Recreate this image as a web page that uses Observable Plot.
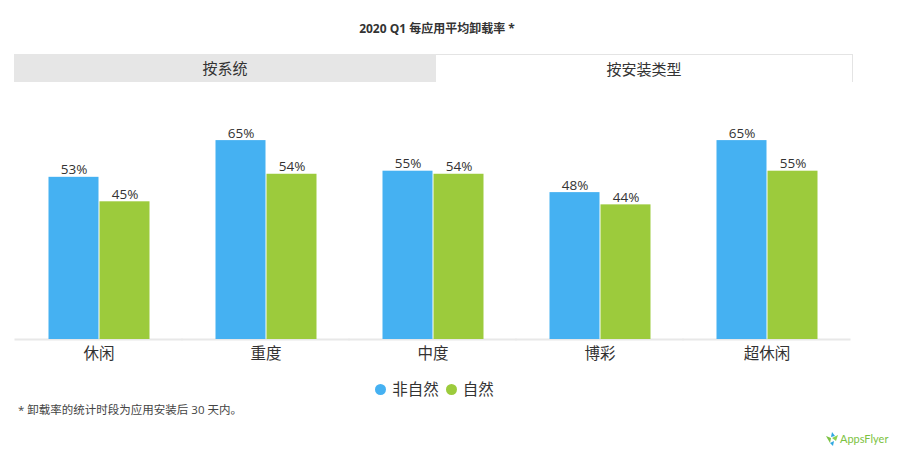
<!DOCTYPE html>
<html><head><meta charset="utf-8">
<script src="https://cdn.jsdelivr.net/npm/d3@7"></script>
<script src="https://cdn.jsdelivr.net/npm/@observablehq/plot@0.6"></script>
<style>
body{margin:0;background:#fff;width:900px;height:452px;position:relative;overflow:hidden;font-family:"Open Sans","Noto Sans CJK SC",sans-serif;color:#333}
#title{position:absolute;top:19px;left:0;width:874px;text-align:center;font-size:12px;font-weight:bold;color:#333}
.tab{position:absolute;top:54px;height:28px;line-height:28px;text-align:center;font-size:15px;color:#333;box-sizing:border-box}
#tab1{left:14px;width:422px;background:#e6e6e6}
#tab2{left:436px;width:417px;background:#fff;border-top:1px solid #e4e4e4;border-right:1px solid #e4e4e4}
#chart{position:absolute;top:90px;left:0}
#legend{position:absolute;top:377px;left:0;width:862px;text-align:center;font-size:15.5px;color:#333}
#legend span.sw{display:inline-block;width:11px;height:11px;border-radius:50%;margin:0 6px 0 7px;vertical-align:0px}
#note{position:absolute;top:401px;left:18px;font-size:11.5px;color:#444}
#logo{position:absolute;top:432px;left:824px;font-size:11px;color:#7cc242;font-family:"Lato",sans-serif}
</style></head><body>
<div id="title">2020 Q1 每应用平均卸载率 *</div>
<div class="tab" id="tab1">按系统</div>
<div class="tab" id="tab2">按安装类型</div>
<div id="chart"></div>
<div id="legend"></div>
<div id="note">* 卸载率的统计时段为应用安装后 30 天内。</div>
<div id="logo"><svg width="16" height="14" style="vertical-align:-3px"><path d="M2 4 L7 6 L6 11 Z" fill="#7cc242"/><path d="M8 6 L14 3 L12 9 Z" fill="#8fd14f"/><path d="M8 0 L11 4 L7 5 Z" fill="#2fa8e0"/><path d="M6 11 L10 9 L9 14 Z" fill="#2fa8e0"/></svg>AppsFlyer</div>
<script>
const categories = ["休闲", "重度", "中度", "博彩", "超休闲"];
const series = ["非自然", "自然"];
const nonOrganic = [53, 65, 55, 48, 65];
const organic = [45, 54, 54, 44, 55];
const colors = ["#45b1f2", "#9ccb3c"];

const data = [];
categories.forEach((c, i) => {
  data.push({cat: c, series: series[0], value: nonOrganic[i]});
  data.push({cat: c, series: series[1], value: organic[i]});
});

const chart = Plot.plot({
  width: 900,
  height: 280,
  marginLeft: 13,
  marginRight: 48,
  marginTop: 19.5,
  marginBottom: 31,
  style: {fontFamily: "'Open Sans','Noto Sans CJK SC',sans-serif", color: "#333", background: "transparent"},
  fx: {domain: categories, paddingInner: 0.385, paddingOuter: 0.1925, label: null, axis: null},
  x: {domain: series, padding: 0, axis: null},
  y: {domain: [0, 75], axis: null},
  color: {domain: series, range: colors},
  marks: [
    Plot.ruleY([0], {stroke: "#e8e8e8", strokeWidth: 2, insetLeft: -32.5, insetRight: -32.5}),
    Plot.barY(data, {fx: "cat", x: "series", y: "value", fill: "series", insetLeft: 0.5, insetRight: 0.5}),
    Plot.text(data, {fx: "cat", x: "series", y: "value", text: d => d.value + "%", lineAnchor: "bottom", dy: -3, fontSize: 13.5, fill: "#333"}),
    Plot.axisFx({anchor: "bottom", tickSize: 0, tickPadding: 8, fontSize: 15.5, label: null, fill: "#333"})
  ]
});
document.getElementById("chart").appendChild(chart);

const leg = document.getElementById("legend");
series.forEach((s, i) => {
  const sw = document.createElement("span");
  sw.className = "sw";
  sw.style.background = colors[i];
  leg.appendChild(sw);
  leg.appendChild(document.createTextNode(s));
});
</script>
</body></html>
